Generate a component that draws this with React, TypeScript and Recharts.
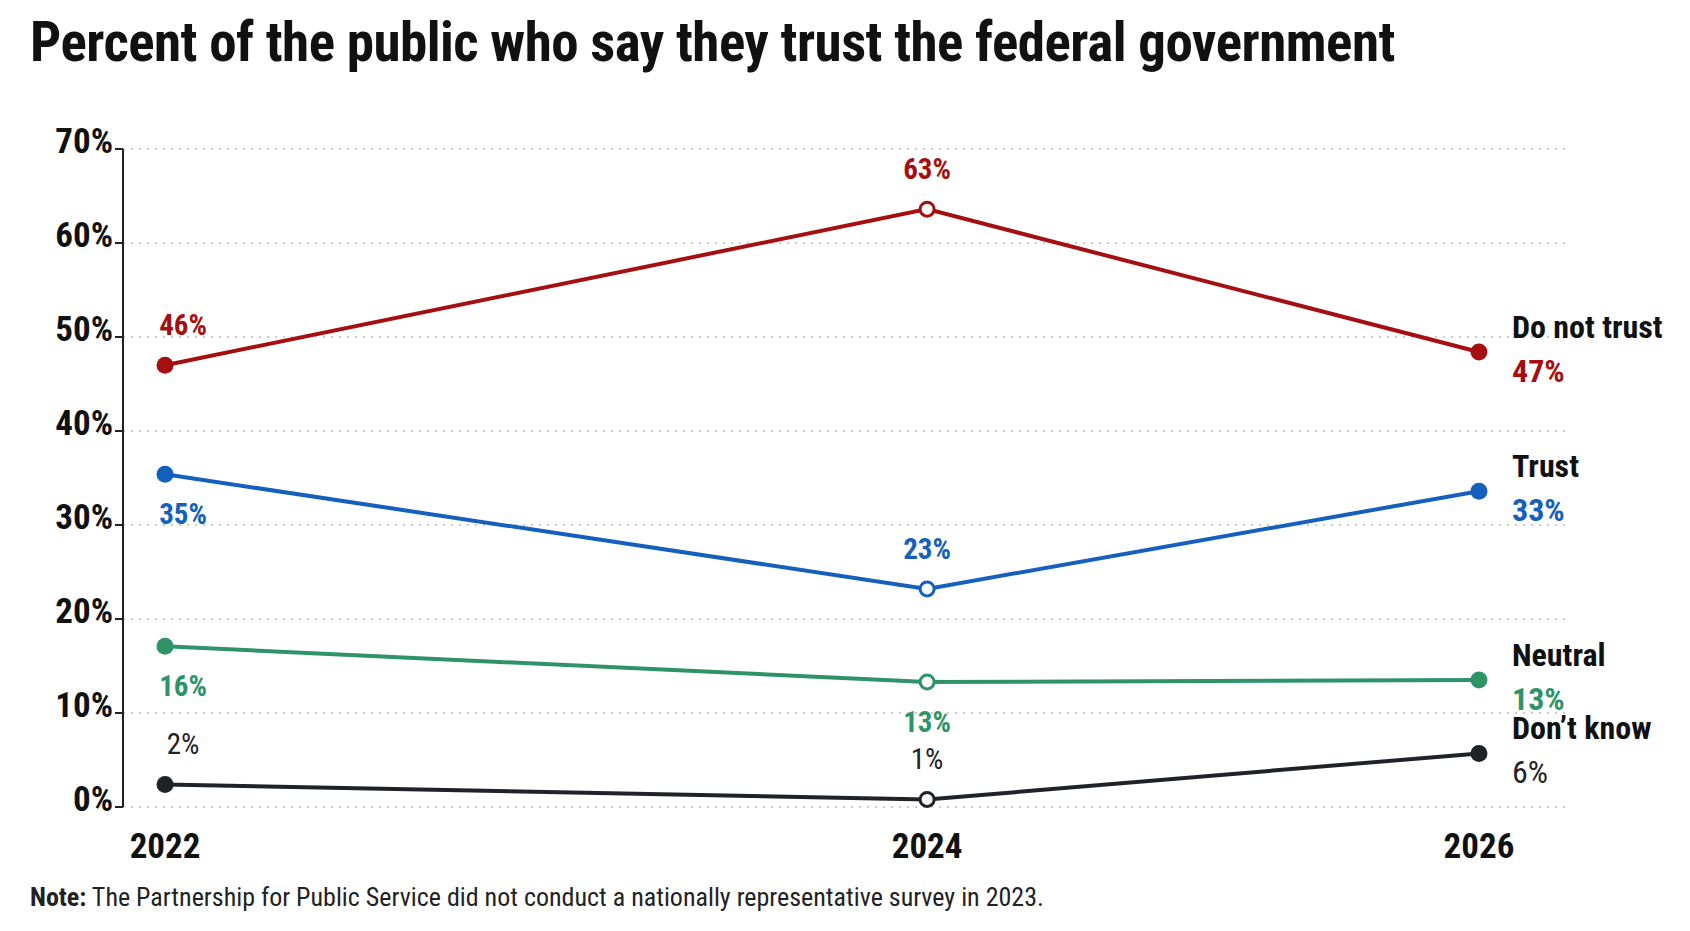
import React from 'react';
import { LineChart, Line, XAxis, YAxis, CartesianGrid, LabelList } from 'recharts';

// Survey years and their relative horizontal placement (2023 gap is not evenly spaced)
const years = ['2022', '2024', '2026'];
const yearPositions = [0, 58, 100];

const seriesNames = ['Do not trust', 'Trust', 'Neutral', 'Don\u2019t know'];
const seriesKeys = ['notTrust', 'trust', 'neutral', 'dontKnow'];
const seriesColors = ['#a50f12', '#1560bd', '#2e9468', '#1f2227'];

const notTrustValues = [47, 63.6, 48.4];
const trustValues = [35.4, 23.2, 33.6];
const neutralValues = [17.1, 13.3, 13.5];
const dontKnowValues = [2.4, 0.8, 5.7];

const notTrustLabels = ['46%', '63%', '47%'];
const trustLabels = ['35%', '23%', '33%'];
const neutralLabels = ['16%', '13%', '13%'];
const dontKnowLabels = ['2%', '1%', '6%'];

const yTicks = [0, 10, 20, 30, 40, 50, 60, 70];

const valueLists = [notTrustValues, trustValues, neutralValues, dontKnowValues];
const labelLists = [notTrustLabels, trustLabels, neutralLabels, dontKnowLabels];
// label side per point: -1 above, 1 below
const labelSides = [[-1, -1], [1, -1], [1, 1], [-1, -1]];

const data = years.map((y, i) => {
  const row: any = { year: y, pos: yearPositions[i] };
  seriesKeys.forEach((k, s) => {
    row[k] = valueLists[s][i];
    row[k + 'Label'] = labelLists[s][i];
  });
  return row;
});

const FONT = "'Liberation Sans Narrow', 'Roboto Condensed', Roboto, sans-serif";

function makeDot(color: string) {
  return (props: any) => {
    const { cx, cy, index } = props;
    const hollow = index === 1;
    return (
      <circle key={index} cx={cx} cy={cy} r={hollow ? 7 : 8.5} fill={hollow ? '#fff' : color} stroke={color} strokeWidth={hollow ? 3 : 0} />
    );
  };
}

function makeLabel(s: number) {
  return (props: any) => {
    const { x, y, value, index } = props;
    const color = seriesColors[s];
    const weight = s === 3 ? 400 : 700;
    if (index === 2) {
      return (
        <g key={index}>
          <text x={x + 33} y={y - 14} fontSize={32} fontWeight={700} fill="#111" fontFamily={FONT}>{seriesNames[s]}</text>
          <text x={x + 33} y={y + 30} fontSize={32} fontWeight={weight} fill={color} fontFamily={FONT}>{value}</text>
        </g>
      );
    }
    const side = labelSides[s][index];
    return (
      <text key={index} x={x + (index === 0 ? 18 : 0)} y={side < 0 ? y - 30 : y + 50} textAnchor="middle" fontSize={29} fontWeight={weight} fill={color} fontFamily={FONT}>
        {value}
      </text>
    );
  };
}

export default function App() {
  return (
    <div style={{ position: 'relative', width: 1690, height: 931, margin: -8, background: '#fff', fontFamily: FONT }}>
      <div style={{ position: 'absolute', left: 30, top: 10, fontSize: 55, fontWeight: 700, color: '#111', letterSpacing: -0.5 }}>
        Percent of the public who say they trust the federal government
      </div>
      <div style={{ position: 'absolute', top: 0, left: 0 }}>
        <LineChart width={1690} height={931} data={data} margin={{ top: 149, right: 123, bottom: 94, left: 0 }}>
          <CartesianGrid vertical={false} stroke="#999" strokeDasharray="2 6" />
          <XAxis
            dataKey="pos"
            type="number"
            domain={[-3.2, 106.7]}
            ticks={yearPositions}
            tickFormatter={(v: number) => years[yearPositions.indexOf(v)]}
            axisLine={false}
            tickLine={false}
            tick={{ fontSize: 35, fontWeight: 700, fill: '#111', fontFamily: FONT }}
            tickMargin={20}
          />
          <YAxis
            domain={[0, 70]}
            ticks={yTicks}
            tickFormatter={(v: number) => v + '%'}
            width={123}
            axisLine={{ stroke: '#222', strokeWidth: 2 }}
            tickLine={{ stroke: '#222', strokeWidth: 2 }}
            tickSize={8}
            tick={{ fontSize: 35, fontWeight: 700, fill: '#111', fontFamily: FONT, dy: -8 }}
          />
          {seriesKeys.map((k, s) => (
            <Line
              key={k}
              dataKey={k}
              stroke={seriesColors[s]}
              strokeWidth={4}
              dot={makeDot(seriesColors[s])}
              activeDot={false}
              isAnimationActive={false}
            >
              <LabelList dataKey={k + 'Label'} content={makeLabel(s)} />
            </Line>
          ))}
        </LineChart>
      </div>
      <div style={{ position: 'absolute', left: 30, top: 882, fontSize: 26, color: '#222' }}>
        <b>Note:</b> The Partnership for Public Service did not conduct a nationally representative survey in 2023.
      </div>
    </div>
  );
}
